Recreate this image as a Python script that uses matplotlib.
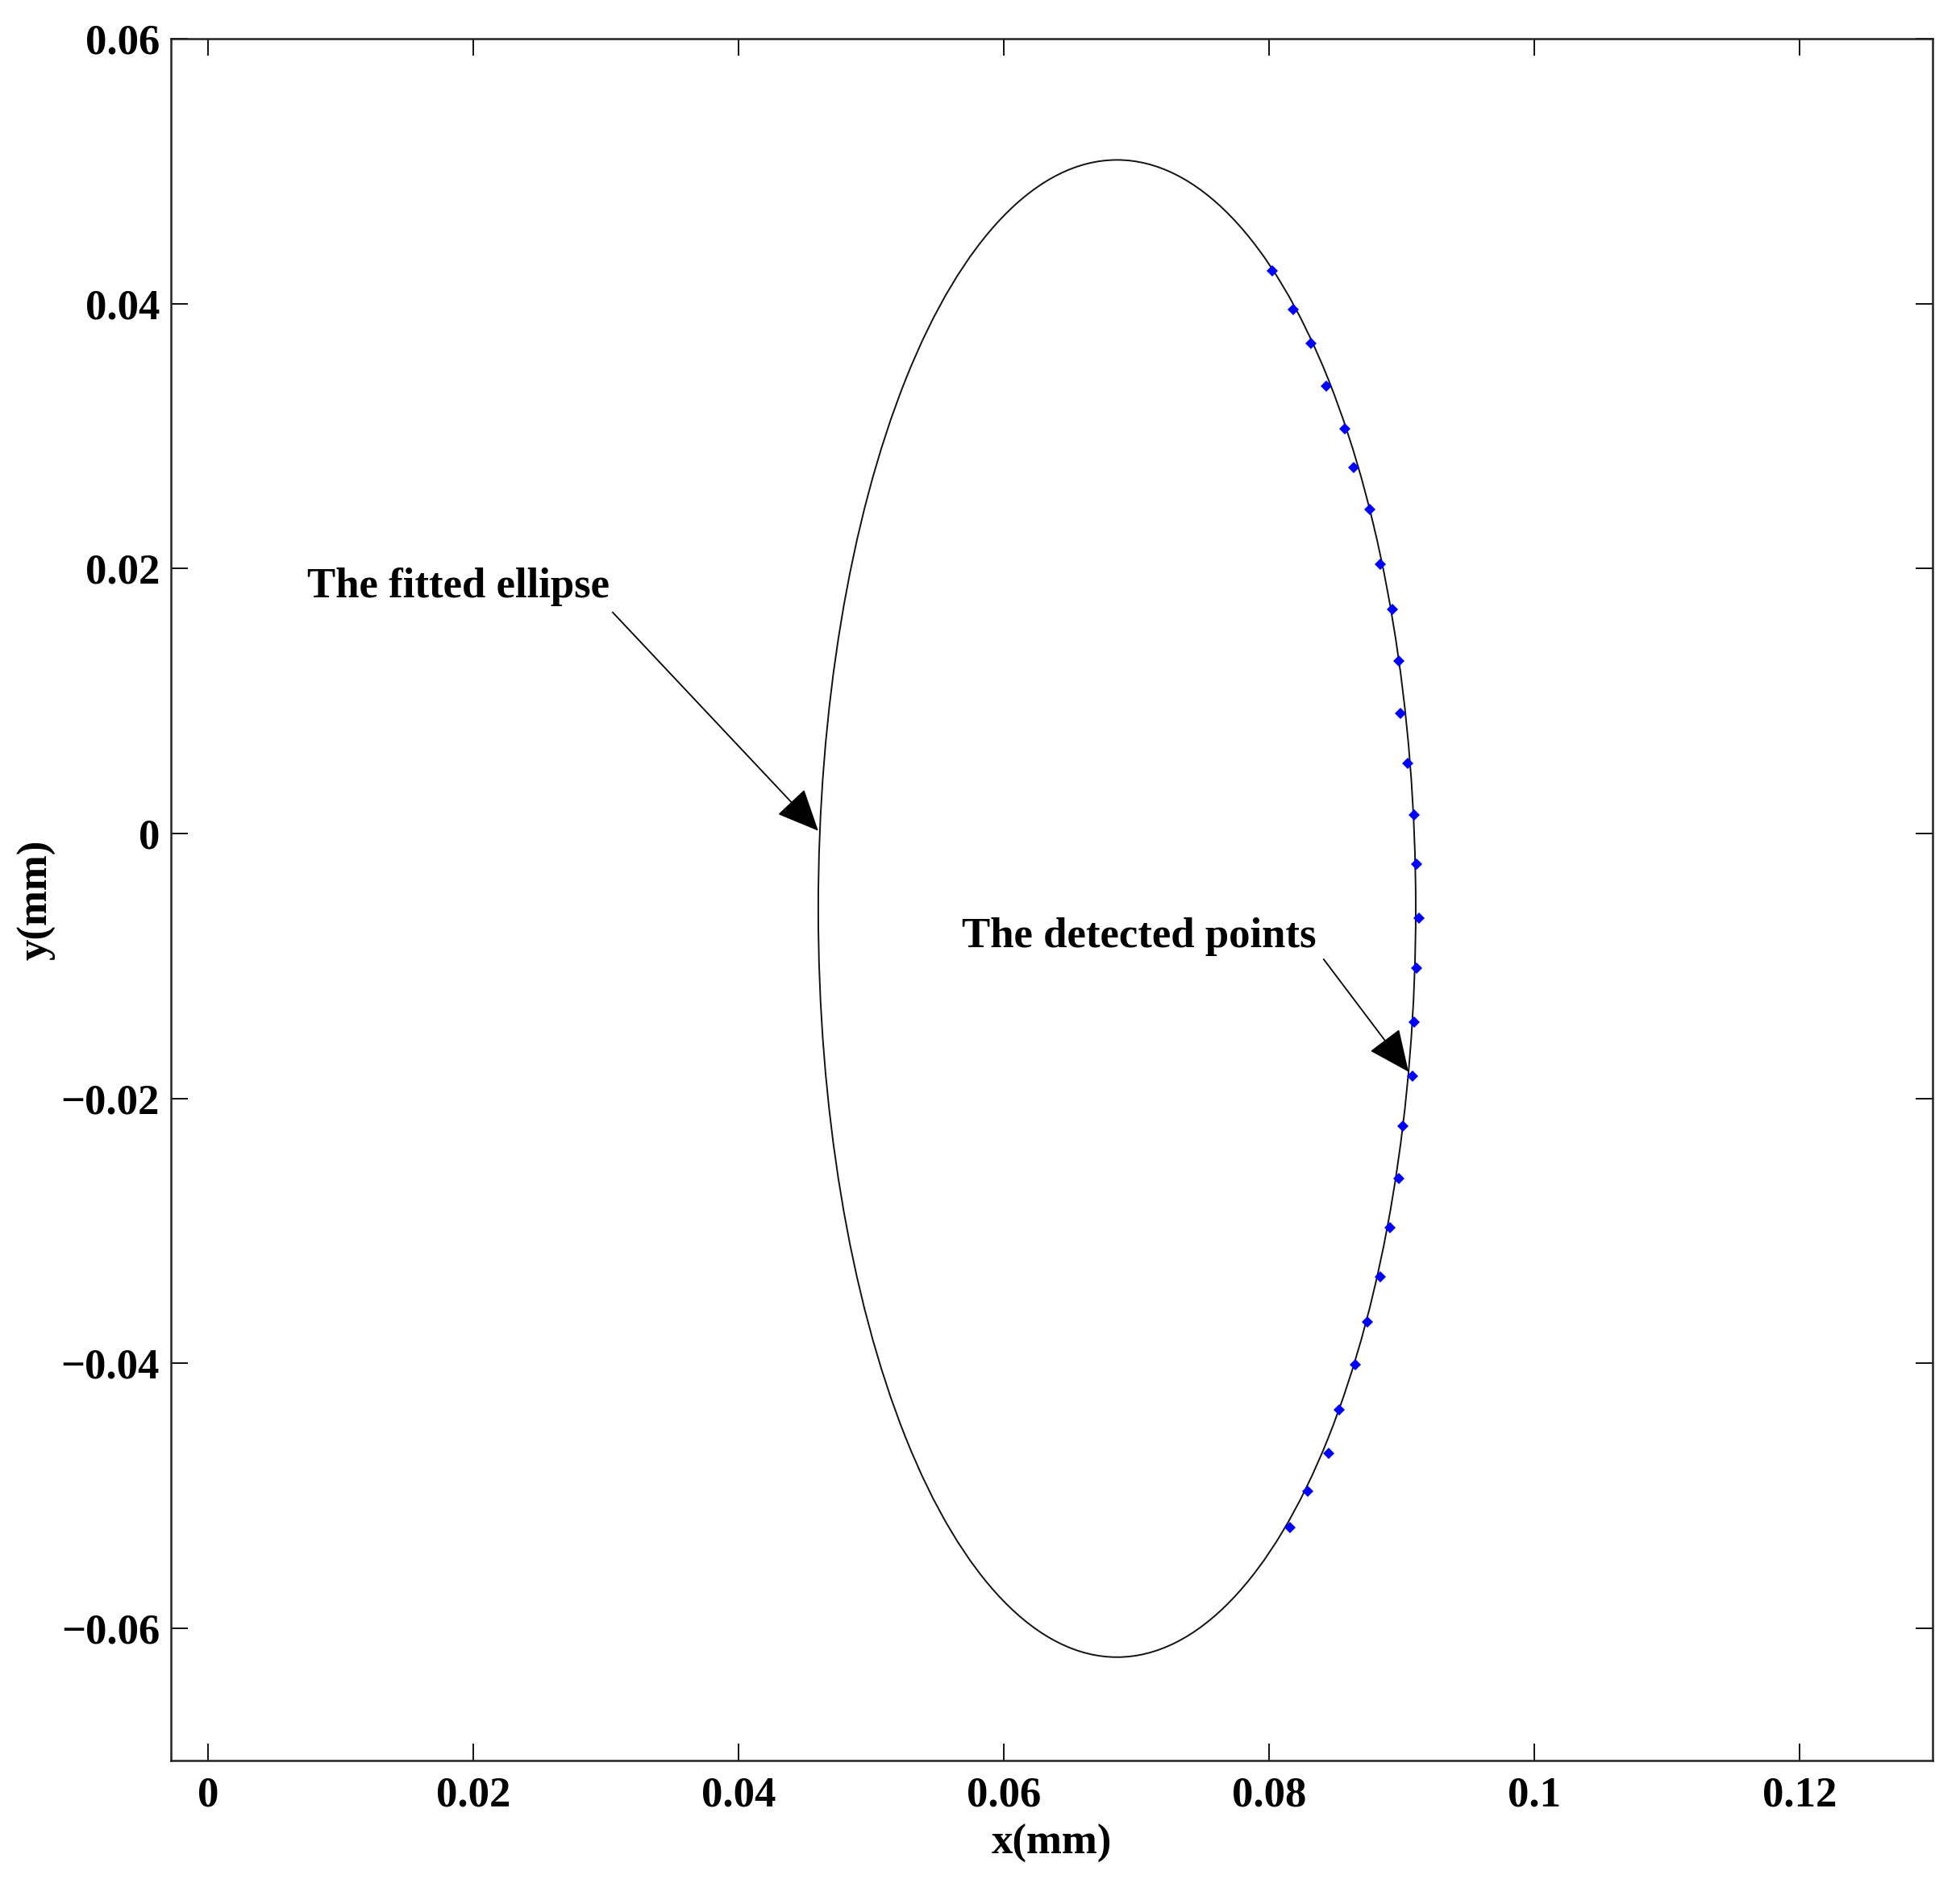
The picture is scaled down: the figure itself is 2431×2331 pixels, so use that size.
import numpy as np
import matplotlib
matplotlib.use('Agg')
import matplotlib.pyplot as plt
from matplotlib.patches import Ellipse

# fitted ellipse (mm)
ellipse_center = (0.06852, -0.00567)
ellipse_semi_x = 0.02252
ellipse_semi_y = 0.05653

# detected edge points (mm)
points_x = [0.08024, 0.08180, 0.08313, 0.08428, 0.08570, 0.08634, 0.08758,
            0.08838, 0.08927, 0.08978, 0.08988, 0.09041, 0.09095, 0.09109,
            0.09129, 0.09109, 0.09095, 0.09079, 0.09010, 0.08978, 0.08907,
            0.08838, 0.08738, 0.08650, 0.08529, 0.08448, 0.08291, 0.08159]
points_y = [0.04251, 0.03958, 0.03703, 0.03376, 0.03058, 0.02763, 0.02445,
            0.02033, 0.01694, 0.01303, 0.00907, 0.00531, 0.00142, -0.00233,
            -0.00641, -0.01017, -0.01426, -0.01832, -0.02212, -0.02603, -0.02975,
            -0.03350, -0.03689, -0.04013, -0.04352, -0.04679, -0.04967, -0.05241]

# axis ticks
x_ticks = [0, 0.02, 0.04, 0.06, 0.08, 0.1, 0.12]
x_tick_labels = ['0', '0.02', '0.04', '0.06', '0.08', '0.1', '0.12']
y_ticks = [-0.06, -0.04, -0.02, 0, 0.02, 0.04, 0.06]
y_tick_labels = ['\u22120.06', '\u22120.04', '\u22120.02', '0', '0.02', '0.04', '0.06']

# annotations: label, text position, arrow start, arrow tip
notes = [
    ('The fitted ellipse', (0.0075, 0.0186), (0.0305, 0.0167), (0.0460, 0.0002)),
    ('The detected points', (0.0568, -0.0078), (0.0841, -0.0095), (0.0905, -0.0180)),
]

plt.rcParams['font.family'] = ['Liberation Serif', 'DejaVu Serif']
plt.rcParams['font.weight'] = 'bold'

fig = plt.figure(figsize=(24.31, 23.31), dpi=100)
ax = fig.add_axes([0.0872, 0.0631, 0.8988, 0.9162])

ell = Ellipse(ellipse_center, 2 * ellipse_semi_x, 2 * ellipse_semi_y,
              fill=False, edgecolor='#111111', lw=1.4)
ax.add_patch(ell)
ax.plot(points_x, points_y, linestyle='none', marker='D', markersize=7,
        color='#0000ff', markeredgewidth=0)

for label, txt, start, tip in notes:
    ax.text(txt[0], txt[1], label, fontsize=38, fontweight='bold',
            ha='left', va='center')
    ax.annotate('', xy=tip, xytext=start,
                arrowprops=dict(arrowstyle='-|>,head_length=1.0,head_width=0.45',
                                mutation_scale=33, color='black', lw=1.3,
                                shrinkA=0, shrinkB=0))

ax.set_xlim(-0.0028, 0.13)
ax.set_ylim(-0.07, 0.06)
ax.set_xticks(x_ticks)
ax.set_xticklabels(x_tick_labels)
ax.set_yticks(y_ticks)
ax.set_yticklabels(y_tick_labels)
ax.tick_params(direction='in', length=15, width=1.3, top=True, right=True,
               labelsize=38)
ax.tick_params(axis='x', pad=14)
ax.tick_params(axis='y', pad=10)
for sp in ax.spines.values():
    sp.set_linewidth(1.8)
    sp.set_color('#222222')

ax.set_xlabel('x(mm)', fontsize=38, fontweight='bold')
ax.set_ylabel('y(mm)', fontsize=38, fontweight='bold')
ax.xaxis.set_label_coords(0.5, -0.037)
ax.yaxis.set_label_coords(-0.065, 0.5)

fig.savefig('out.png', dpi=100)
